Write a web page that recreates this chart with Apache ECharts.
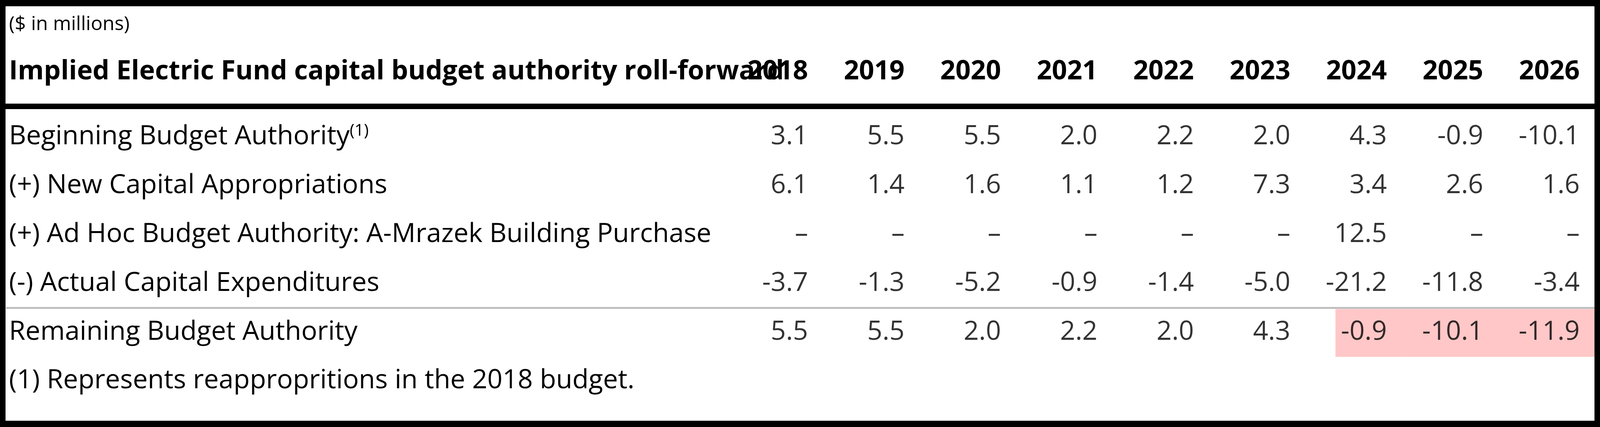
<!DOCTYPE html>
<html>
<head>
<meta charset="UTF-8">
<title>Electric Fund roll-forward</title>
<script src="https://cdn.jsdelivr.net/npm/echarts@6/dist/echarts.min.js"></script>
<style>html,body{margin:0;padding:0;background:#fff;overflow:hidden}</style>
</head>
<body>
	<div id="container" style="width:100vw;height:100vh;"></div>
	<script type="text/javascript">
	var years = ['2018','2019','2020','2021','2022','2023','2024','2025','2026'];   //列
	var rows = ['Beginning Budget Authority', '(+) New Capital Appropriations',
		'(+) Ad Hoc Budget Authority: A-Mrazek Building Purchase', '(-) Actual Capital Expenditures',
		'Remaining Budget Authority'];
	var beginning = [3.1, 5.5, 5.5, 2.0, 2.2, 2.0, 4.3, -0.9, -10.1];
	var newApprop = [6.1, 1.4, 1.6, 1.1, 1.2, 7.3, 3.4, 2.6, 1.6];
	var adHoc = [null, null, null, null, null, null, 12.5, null, null];
	var capex = [-3.7, -1.3, -5.2, -0.9, -1.4, -5.0, -21.2, -11.8, -3.4];
	var remaining = [5.5, 5.5, 2.0, 2.2, 2.0, 4.3, -0.9, -10.1, -11.9];
	var highlight = ['2024', '2025', '2026'];   // 负值高亮

	var dom = document.getElementById("container");
	var W = dom.clientWidth, H = dom.clientHeight;
	var sx = W / 5323, sy = H / 1092;
	var font = '"Open Sans", sans-serif';
	var fs = 68 * sy;

	var cells = [];
	[beginning, newApprop, adHoc, capex, remaining].forEach(function (arr, r) {
		arr.forEach(function (v, c) {
			cells.push([years[c], rows[r], v == null ? '\u2013' : v.toFixed(1)]);
		});
	});
	var redCells = highlight.map(function (y) { return [y, rows[4]]; });

	var myChart = echarts.init(dom);
	var option = {
		animation: false,
		grid: { left: 2418 * sx, right: 17 * sx, top: 287.5 * sy, bottom: 179.5 * sy },
		xAxis: {
			type: 'category', data: years, position: 'top',
			axisLine: { show: false }, axisTick: { show: false }, splitLine: { show: false },
			axisLabel: {
				margin: 70 * sy,
				formatter: function (v) { return '{a|' + v + '}'; },
				rich: { a: { width: 220 * sx, align: 'right', fontFamily: font, fontSize: fs, fontWeight: 'bold', color: '#000' } }
			}
		},
		yAxis: {
			type: 'category', data: rows, inverse: true,
			axisLine: { show: false }, axisTick: { show: false }, splitLine: { show: false },
			axisLabel: {
				margin: 2388 * sx, align: 'left',
				formatter: function (v) { return v === rows[0] ? '{a|' + v + '}{s|(1)}' : '{a|' + v + '}'; },
				rich: {
					a: { fontFamily: font, fontSize: fs, color: '#000' },
					s: { fontFamily: font, fontSize: 42 * sy, color: '#000', verticalAlign: 'top', padding: [0, 0, 30 * sy, 0] }
				}
			}
		},
		graphic: [
			{ type: 'text', left: 30 * sx, top: 38 * sy, style: { text: '($ in millions)', font: (50 * sy) + 'px ' + font, fill: '#000' } },
			{ type: 'text', left: 30 * sx, top: 150 * sy, style: { text: 'Implied Electric Fund capital budget authority roll-forward', font: 'bold ' + fs + 'px ' + font, fill: '#000' } },
			{ type: 'text', left: 30 * sx, top: 940 * sy, style: { text: '(1) Represents reappropritions in the 2018 budget.', font: fs + 'px ' + font, fill: '#000' } },
			{ type: 'rect', shape: { x: 8 * sx, y: 265 * sy, width: 5307 * sx, height: 14 * sy }, style: { fill: '#000' } },
			{ type: 'rect', shape: { x: 20 * sx, y: 785 * sy, width: 5290 * sx, height: 5 * sy }, style: { fill: '#bfbfbf' } },
			{ type: 'rect', z: 100, shape: { x: 8 * sx, y: 8 * sy, width: W - 16 * sx, height: H - 16 * sy }, style: { fill: 'none', stroke: '#000', lineWidth: 16 * sy } }
		],
		series: [
			{
				type: 'custom',
				data: redCells,
				renderItem: function (params, api) {
					var p = api.coord([api.value(0), api.value(1)]);
					var s = api.size([1, 1]);
					var x0 = p[0] - s[0] / 2;
					if (params.dataIndex === 0) x0 = p[0] - s[0] * 0.19;
					return { type: 'rect', shape: { x: x0, y: p[1] - s[1] / 2 + 3 * sy, width: p[0] + s[0] / 2 - x0, height: s[1] - 3 * sy }, style: { fill: '#ffc7c7' } };
				},
				z: 1
			},
			{
				type: 'scatter',
				data: cells,
				symbolSize: 0,
				z: 5,
				label: {
					show: true, position: 'inside',
					formatter: function (p) { return '{a|' + p.value[2] + '}'; },
					rich: { a: { width: 220 * sx, align: 'right', fontFamily: font, fontSize: fs, color: '#000' } }
				}
			}
		]
	};
	myChart.setOption(option);
	</script>
</body>
</html>
